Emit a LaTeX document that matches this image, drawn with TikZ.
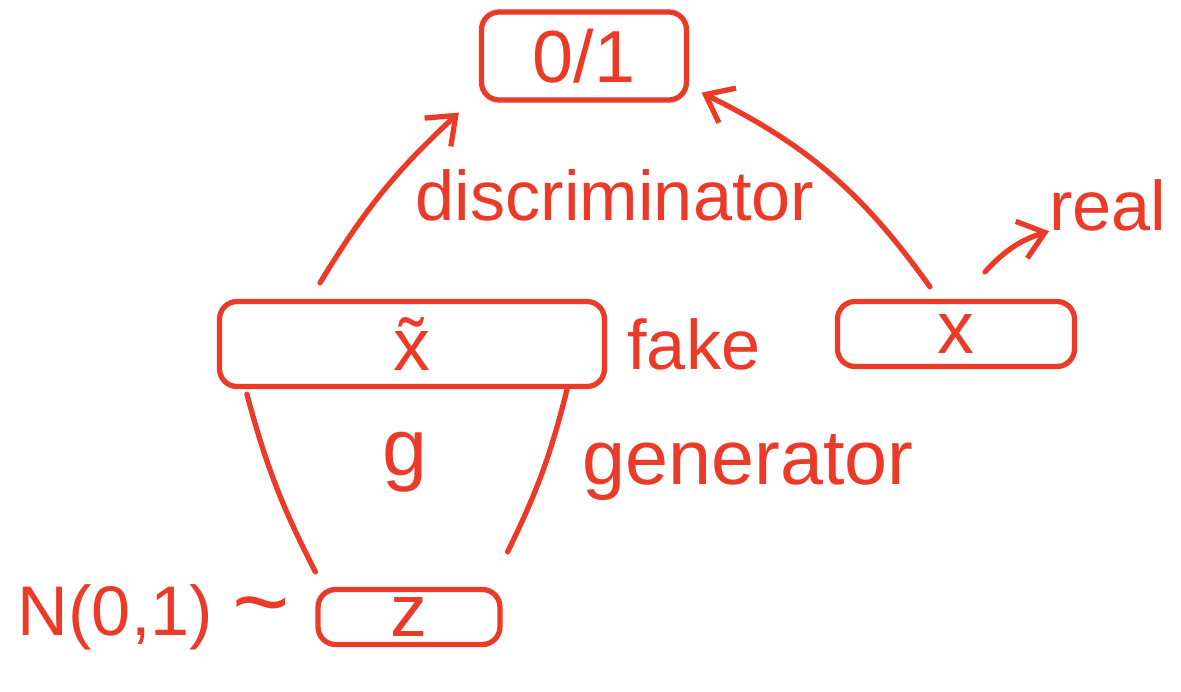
\documentclass[tikz,border=0pt]{standalone}
\usepackage{fontspec}
\setmainfont{Liberation Sans}
\usepackage{xcolor}
\usetikzlibrary{positioning,arrows.meta}
\definecolor{pen}{RGB}{236,58,40}
\tikzset{
    pen-box/.style = {draw=pen, line width=3pt, rectangle, rounded corners=10pt, inner sep=0pt, text=pen, font=\fontsize{42}{44}\selectfont},
    pen-label/.style = {text=pen, inner sep=0pt, font=\fontsize{40}{42}\selectfont},
    pen-line/.style = {draw=pen, line width=3pt, line cap=round},
    pen-arrow/.style = {pen-line, -{Straight Barb[length=14pt,width=22pt,line width=3pt]}},
}
\begin{document}
\begin{tikzpicture}[x=0.02cm, y=-0.02cm]
\useasboundingbox (0,0) rectangle (1181,691);
% boxes
\node[pen-box, minimum width=4.1cm, minimum height=1.76cm] (out) at (584,56) {0/1};
\node[pen-box, minimum width=7.7cm, minimum height=1.7cm] (xfake) at (412,344) {\~{x}};
\node[pen-box, minimum width=4.74cm, minimum height=1.3cm] (xreal) at (956,334) {x};
\node[pen-box, minimum width=3.64cm, minimum height=1.1cm] (z) at (409,617) {z};
% labels
\node[pen-label] (disc) at (615,195) {discriminator};
\node[pen-label, right=0.4cm of xfake] (fake) {fake};
\node[pen-label] (real) at (1108,205) {real};
\node[pen-label, font=\fontsize{46}{48}\selectfont] (g) at (405,462) {g};
\node[pen-label, font=\fontsize{44}{46}\selectfont] (gen) at (748,468) {generator};
\node[pen-label, left=0.5cm of z] (prior) {N(0,1) {\fontsize{56}{56}\selectfont\textasciitilde}};
% discriminator inputs
\draw[pen-arrow] ([xshift=-1.84cm,yshift=0.32cm]xfake.north) to[bend left=8] ([xshift=-0.4cm,yshift=-0.2cm]out.south west);
\draw[pen-arrow] ([xshift=-0.52cm,yshift=0.24cm]xreal.north) to[bend right=14] ([xshift=0.25cm,yshift=0.2cm]out.south east);
\draw[pen-arrow] ([xshift=0.58cm,yshift=0.54cm]xreal.north) to[bend left=15] (real.south west);
% generator sides
\draw[pen-line] ([xshift=0cm,yshift=0.3cm]z.north west) to[bend left=6] ([xshift=0.6cm,yshift=-0.1cm]xfake.south west);
\draw[pen-line] ([xshift=0.1cm,yshift=0.7cm]z.north east) to[bend right=6] ([xshift=-0.8cm,yshift=0cm]xfake.south east);
\end{tikzpicture}
\end{document}
